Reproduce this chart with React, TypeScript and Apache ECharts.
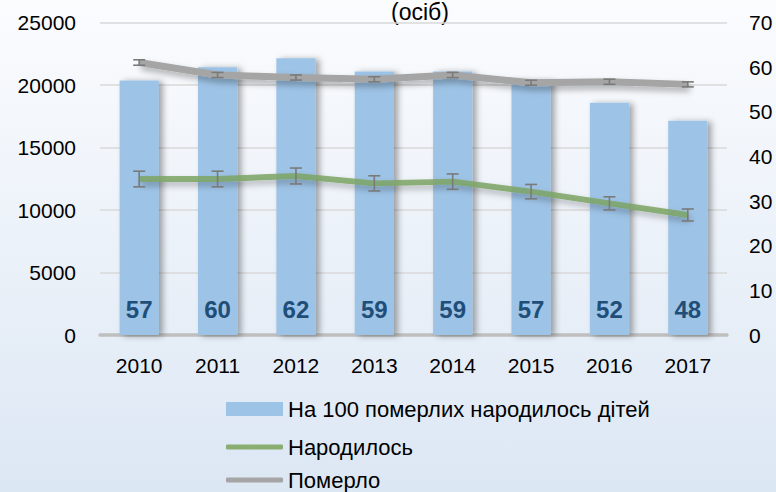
import React, { useEffect, useRef } from "react";
import * as echarts from "echarts";

const years = ["2010", "2011", "2012", "2013", "2014", "2015", "2016", "2017"];
const ratioPer100 = [57, 60, 62, 59, 59, 57, 52, 48];
const born = [12480, 12480, 12720, 12130, 12270, 11470, 10530, 9600];
const died = [21800, 20800, 20600, 20460, 20800, 20180, 20260, 20050];
const bornErrPct = 5;
const diedErrPct = 1;
const leftTicks = { min: 0, max: 25000, interval: 5000 };
const rightTicks = { min: 0, max: 70, interval: 10 };
const title = "(осіб)";
const names = ["На 100 померлих народилось дітей", "Народилось", "Померло"];

const FONT = "'Liberation Sans', Arial, sans-serif";

export default function App() {
  const ref = useRef<HTMLDivElement>(null);
  useEffect(() => {
    if (!ref.current) return;
    const chart = echarts.init(ref.current, null, { renderer: "svg" });
    const errRender = (params: any, api: any) => {
      const x = api.value(0);
      const v = api.value(1);
      const e = api.value(2);
      const top = api.coord([x, v + e]);
      const bot = api.coord([x, v - e]);
      const hw = 6;
      const style = { stroke: "#7a7a7a", lineWidth: 1.6 };
      return {
        type: "group",
        children: [
          { type: "line", shape: { x1: top[0], y1: top[1], x2: bot[0], y2: bot[1] }, style },
          { type: "line", shape: { x1: top[0] - hw, y1: top[1], x2: top[0] + hw, y2: top[1] }, style },
          { type: "line", shape: { x1: bot[0] - hw, y1: bot[1], x2: bot[0] + hw, y2: bot[1] }, style },
        ],
      };
    };
    const legendText = { fontSize: 22, color: "#000", fontFamily: FONT, lineHeight: 24 };
    const legendBase = {
      orient: "vertical",
      left: 226,
      padding: 0,
      itemWidth: 57,
      textStyle: legendText,
      itemGap: 4,
    };
    chart.setOption({
      animation: false,
      backgroundColor: {
        type: "linear", x: 0, y: 0, x2: 0, y2: 1,
        colorStops: [
          { offset: 0, color: "#fbfcfe" },
          { offset: 1, color: "#dce7f4" },
        ],
      },
      textStyle: { fontFamily: FONT },
      graphic: [
        {
          type: "text",
          x: 420,
          y: 12,
          style: {
            text: title,
            fontFamily: FONT,
            fontSize: 23,
            fill: "#000",
            textAlign: "center",
            textVerticalAlign: "middle",
          },
        },
      ],
      legend: [
        { ...legendBase, top: 397, itemHeight: 14, icon: "rect", data: [names[0]] },
        { ...legendBase, top: 435, itemHeight: 5, icon: "roundRect", data: [names[1]], itemStyle: { color: "#8aad72" } },
        { ...legendBase, top: 468, itemHeight: 5, icon: "roundRect", data: [names[2]], itemStyle: { color: "#a5a5a5" } },
      ],
      grid: { left: 100, right: 49, top: 22.5, bottom: 157, containLabel: false },
      xAxis: {
        type: "category",
        data: years,
        axisLine: { lineStyle: { color: "#bfbfbf", width: 3.5 } },
        axisTick: { show: false },
        axisLabel: { fontSize: 21, color: "#000", margin: 20, fontFamily: FONT },
      },
      yAxis: [
        {
          type: "value",
          ...leftTicks,
          axisLine: { show: false },
          axisTick: { show: false },
          splitLine: { lineStyle: { color: "#d9d9d9", width: 1.5 } },
          axisLabel: { fontSize: 21, color: "#000", margin: 24, fontFamily: FONT, formatter: (v: number) => String(v) },
        },
        {
          type: "value",
          position: "right",
          ...rightTicks,
          axisLine: { show: false },
          axisTick: { show: false },
          splitLine: { show: false },
          axisLabel: { fontSize: 21, color: "#000", margin: 22, fontFamily: FONT, formatter: (v: number) => String(v) },
        },
      ],
      series: [
        {
          name: names[0],
          type: "bar",
          yAxisIndex: 1,
          data: ratioPer100,
          barWidth: "50%",
          itemStyle: {
            color: "#9dc3e6",
            shadowColor: "rgba(0,0,0,0.35)",
            shadowBlur: 6,
            shadowOffsetX: 4,
            shadowOffsetY: 1,
          },
          label: {
            show: true,
            position: "insideBottom",
            distance: 14,
            fontSize: 24,
            fontWeight: "bold",
            color: "#1f4e79",
            fontFamily: FONT,
          },
          z: 1,
        },
        {
          name: names[1],
          type: "line",
          yAxisIndex: 0,
          data: born,
          symbol: "none",
          color: "#8aad72",
          lineStyle: {
            color: "rgba(125,165,100,0.85)",
            width: 6,
            shadowColor: "rgba(0,0,0,0.3)",
            shadowBlur: 6,
            shadowOffsetX: 2,
            shadowOffsetY: 4,
          },
          z: 3,
        },
        {
          name: names[2],
          type: "line",
          yAxisIndex: 0,
          data: died,
          symbol: "none",
          color: "#a5a5a5",
          lineStyle: {
            color: "#a5a5a5",
            width: 7,
            shadowColor: "rgba(0,0,0,0.3)",
            shadowBlur: 6,
            shadowOffsetX: 2,
            shadowOffsetY: 4,
          },
          z: 3,
        },
        {
          type: "custom",
          yAxisIndex: 0,
          renderItem: errRender,
          data: born.map((v, i) => [i, v, (v * bornErrPct) / 100]),
          encode: { x: 0, y: 1 },
          z: 4,
          silent: true,
        },
        {
          type: "custom",
          yAxisIndex: 0,
          renderItem: errRender,
          data: died.map((v, i) => [i, v, (v * diedErrPct) / 100]),
          encode: { x: 0, y: 1 },
          z: 4,
          silent: true,
        },
      ],
    });
    return () => chart.dispose();
  }, []);
  return (
    <div
      ref={ref}
      style={{ position: "fixed", left: 0, top: 0, width: 776, height: 492 }}
    />
  );
}
